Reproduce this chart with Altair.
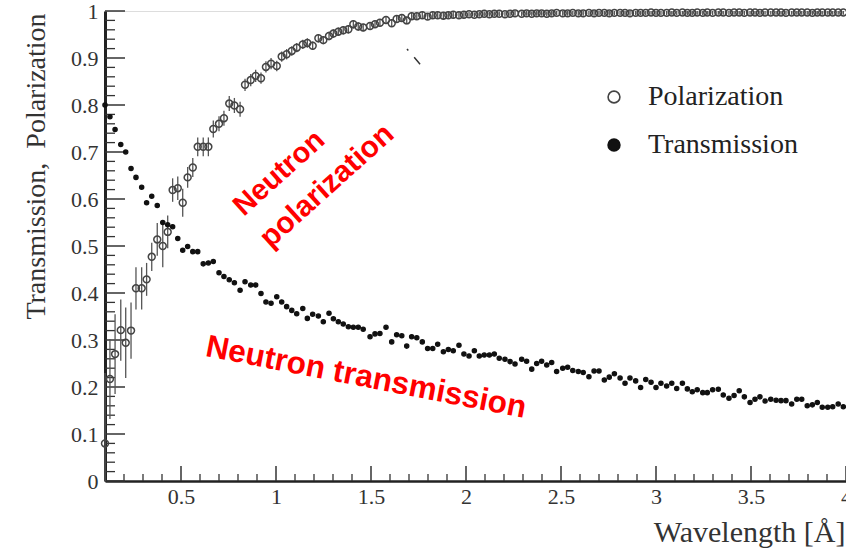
import altair as alt
import pandas as pd

# ---------------- data ----------------
wavelength = [
    0.100, 0.126, 0.153, 0.183, 0.209, 0.237, 0.263, 0.293, 0.319, 0.346,
    0.375, 0.404, 0.430, 0.456, 0.483, 0.509, 0.535, 0.562, 0.588, 0.617,
    0.644, 0.670, 0.700, 0.726, 0.754, 0.781, 0.811, 0.837, 0.867, 0.893,
    0.921, 0.947, 0.974, 1.004, 1.030, 1.056, 1.083, 1.109, 1.141, 1.165,
    1.193, 1.223, 1.249, 1.279, 1.302, 1.328, 1.354, 1.381, 1.407, 1.433,
    1.459, 1.495, 1.521, 1.547, 1.579, 1.609, 1.635, 1.662, 1.688, 1.714,
    1.741, 1.770, 1.798, 1.825, 1.851, 1.881, 1.907, 1.933, 1.963, 1.989,
    2.016, 2.044, 2.070, 2.096, 2.123, 2.149, 2.175, 2.205, 2.232, 2.258,
    2.293, 2.319, 2.346, 2.372, 2.398, 2.425, 2.451, 2.477, 2.509, 2.535,
    2.562, 2.591, 2.617, 2.647, 2.674, 2.700, 2.728, 2.754, 2.781, 2.811,
    2.837, 2.863, 2.893, 2.919, 2.946, 2.974, 3.000, 3.026, 3.056, 3.083,
    3.109, 3.139, 3.165, 3.191, 3.217, 3.246, 3.270, 3.298, 3.328, 3.354,
    3.384, 3.411, 3.438, 3.465, 3.495, 3.521, 3.547, 3.574, 3.604, 3.632,
    3.658, 3.684, 3.714, 3.741, 3.767, 3.796, 3.823, 3.849, 3.875, 3.904,
    3.930, 3.959, 3.986,
]

transmission = [
    0.800, 0.775, 0.748, 0.716, 0.700, 0.665, 0.646, 0.625, 0.592, 0.606,
    0.586, 0.550, 0.545, 0.541, 0.516, 0.491, 0.499, 0.488, 0.488, 0.462,
    0.464, 0.467, 0.443, 0.435, 0.428, 0.422, 0.406, 0.424, 0.417, 0.417,
    0.399, 0.381, 0.378, 0.392, 0.381, 0.371, 0.363, 0.356, 0.367, 0.346,
    0.355, 0.351, 0.339, 0.357, 0.345, 0.339, 0.334, 0.328, 0.327, 0.327,
    0.323, 0.307, 0.313, 0.314, 0.327, 0.296, 0.311, 0.309, 0.287, 0.307,
    0.305, 0.296, 0.282, 0.282, 0.291, 0.275, 0.280, 0.277, 0.289, 0.270,
    0.266, 0.277, 0.266, 0.268, 0.268, 0.270, 0.261, 0.259, 0.254, 0.249,
    0.259, 0.255, 0.238, 0.250, 0.255, 0.247, 0.252, 0.233, 0.240, 0.242,
    0.235, 0.233, 0.231, 0.222, 0.234, 0.234, 0.215, 0.221, 0.228, 0.219,
    0.208, 0.219, 0.213, 0.199, 0.216, 0.210, 0.199, 0.208, 0.202, 0.208,
    0.197, 0.208, 0.196, 0.190, 0.194, 0.188, 0.188, 0.194, 0.195, 0.183,
    0.176, 0.182, 0.192, 0.179, 0.167, 0.174, 0.179, 0.170, 0.174, 0.172,
    0.171, 0.171, 0.164, 0.174, 0.174, 0.160, 0.162, 0.167, 0.157, 0.157,
    0.158, 0.164, 0.158,
]

polarization = [
    0.080, 0.217, 0.270, 0.321, 0.294, 0.320, 0.410, 0.410, 0.429, 0.477,
    0.514, 0.500, 0.530, 0.619, 0.623, 0.592, 0.646, 0.667, 0.711, 0.711,
    0.711, 0.749, 0.760, 0.772, 0.803, 0.799, 0.791, 0.843, 0.853, 0.862,
    0.857, 0.881, 0.888, 0.883, 0.903, 0.908, 0.915, 0.922, 0.929, 0.932,
    0.926, 0.942, 0.938, 0.947, 0.952, 0.956, 0.959, 0.961, 0.972, 0.967,
    0.965, 0.968, 0.972, 0.975, 0.981, 0.974, 0.983, 0.985, 0.980, 0.989,
    0.989, 0.991, 0.988, 0.991, 0.991, 0.990, 0.991, 0.992, 0.991, 0.992,
    0.993, 0.992, 0.993, 0.994, 0.993, 0.994, 0.994, 0.993, 0.994, 0.995,
    0.994, 0.995, 0.994, 0.995, 0.995, 0.994, 0.995, 0.996, 0.995, 0.995,
    0.996, 0.995, 0.995, 0.996, 0.995, 0.996, 0.996, 0.995, 0.996, 0.996,
    0.996, 0.995, 0.996, 0.996, 0.996, 0.997, 0.996, 0.996, 0.996, 0.997,
    0.996, 0.997, 0.996, 0.996, 0.997, 0.996, 0.997, 0.996, 0.997, 0.997,
    0.996, 0.997, 0.997, 0.996, 0.997, 0.997, 0.996, 0.997, 0.997, 0.997,
    0.997, 0.996, 0.997, 0.997, 0.997, 0.997, 0.996, 0.997, 0.997, 0.997,
    0.997, 0.997, 0.997,
]

polarization_err = [
    0.150, 0.085, 0.085, 0.065, 0.075, 0.060, 0.045, 0.045, 0.035, 0.030,
    0.035, 0.045, 0.035, 0.025, 0.025, 0.030, 0.022, 0.020, 0.020, 0.020,
    0.020, 0.018, 0.016, 0.016, 0.016, 0.016, 0.016, 0.013, 0.013, 0.013,
    0.012, 0.012, 0.012, 0.011, 0.011, 0.011, 0.010, 0.010, 0.010, 0.010,
    0.009, 0.009, 0.009, 0.009, 0.009, 0.009, 0.009, 0.009, 0.009, 0.009,
    0.008, 0.008, 0.008, 0.008, 0.008, 0.008, 0.008, 0.008, 0.008, 0.008,
    0.007, 0.007, 0.007, 0.007, 0.007, 0.007, 0.007, 0.007, 0.007, 0.007,
] + [0.005] * 73

series_names = ["Polarization", "Transmission"]
annotations = ["Neutron", "polarization", "Neutron transmission"]

x_major = [0.5, 1, 1.5, 2, 2.5, 3, 3.5, 4]
x_minor = [round(0.1 * i, 1) for i in range(2, 40) if i % 5 != 0]
y_major = [round(0.1 * i, 1) for i in range(0, 11)]
y_minor = [round(0.02 * i, 2) for i in range(1, 50) if i % 5 != 0]

# ---------------- layout ----------------
W, H = 741, 470
SERIF = "Liberation Serif"
SANS = "Liberation Sans"

xs = alt.Scale(domain=[0.1, 4.0], nice=False, zero=False)
ys = alt.Scale(domain=[0, 1], nice=False, zero=False)

x_axis = alt.Axis(
    values=x_major, format="~g", ticks=False, grid=False, labelFlush=False,
    labelOverlap=False, labelFont=SERIF, labelFontSize=22, labelColor="#333",
    labelPadding=5, domainColor="#222", domainWidth=2.5,
    title="Wavelength [Å]", titleFont=SERIF, titleFontSize=30,
    titleFontWeight="normal", titleColor="#333", titleAlign="right",
    titleBaseline="alphabetic", titleX=W - 1, titleY=60,
)
y_axis = alt.Axis(
    values=y_major, format="~g", ticks=False, grid=False, labelFlush=False,
    labelOverlap=False, labelFont=SERIF, labelFontSize=22, labelColor="#333",
    labelPadding=7, domainColor="#222", domainWidth=3,
    title="Transmission,\u00a0 Polarization", titleFont=SERIF, titleFontSize=28,
    titleFontWeight="normal", titleColor="#333", titleAngle=270,
    titleAlign="center", titleBaseline="alphabetic", titleX=-61, titleY=155,
)

pol_df = pd.DataFrame({"x": wavelength, "y": polarization,
                       "series": [series_names[0]] * len(wavelength)})
tra_df = pd.DataFrame({"x": wavelength, "y": transmission,
                       "series": [series_names[1]] * len(wavelength)})
errs = pd.DataFrame({
    "x": wavelength,
    "lo": [max(p - e, 0.0) for p, e in zip(polarization, polarization_err)],
    "hi": [min(p + e, 1.0) for p, e in zip(polarization, polarization_err)],
})

leg = alt.Legend(
    title=None, orient="none", legendX=495, legendY=72, padding=0,
    labelFont=SERIF, labelFontSize=28, labelColor="#222", labelOffset=20,
    symbolType="circle", symbolSize=140, symbolStrokeWidth=1.6, rowPadding=20,
)
fill_enc = alt.Fill("series:N", scale=alt.Scale(domain=series_names, range=["transparent", "#111"]), legend=leg)
stroke_enc = alt.Stroke("series:N", scale=alt.Scale(domain=series_names, range=["#444", "#111"]), legend=leg)

# tick marks pointing inward
y_maj_ticks = alt.Chart(pd.DataFrame({"v": y_major})).mark_rule(
    stroke="#333", strokeWidth=1.5
).encode(y=alt.Y("v:Q", scale=ys, axis=y_axis), x=alt.value(0), x2=alt.value(20))
y_min_ticks = alt.Chart(pd.DataFrame({"v": y_minor})).mark_rule(
    stroke="#333", strokeWidth=1.3
).encode(y=alt.Y("v:Q", scale=ys, axis=y_axis), x=alt.value(0), x2=alt.value(10))
x_maj_ticks = alt.Chart(pd.DataFrame({"v": x_major})).mark_rule(
    stroke="#333", strokeWidth=1.5
).encode(x=alt.X("v:Q", scale=xs, axis=x_axis), y=alt.value(H), y2=alt.value(H - 15))
x_min_ticks = alt.Chart(pd.DataFrame({"v": x_minor})).mark_rule(
    stroke="#333", strokeWidth=1.3
).encode(x=alt.X("v:Q", scale=xs, axis=x_axis), y=alt.value(H), y2=alt.value(H - 7))

err_bars = alt.Chart(errs).mark_rule(stroke="#555", strokeWidth=1.3).encode(
    x=alt.X("x:Q", scale=xs, axis=x_axis),
    y=alt.Y("lo:Q", scale=ys, axis=y_axis),
    y2="hi:Q",
)

pol_points = alt.Chart(pol_df).mark_point(opacity=1, strokeWidth=1.5, size=48).encode(
    x=alt.X("x:Q", scale=xs, axis=x_axis),
    y=alt.Y("y:Q", scale=ys, axis=y_axis),
    fill=fill_enc, stroke=stroke_enc,
)
tra_points = alt.Chart(tra_df).mark_point(opacity=1, strokeWidth=1.3, size=18).encode(
    x=alt.X("x:Q", scale=xs, axis=x_axis),
    y=alt.Y("y:Q", scale=ys, axis=y_axis),
    fill=fill_enc, stroke=stroke_enc,
)

# stray dashed stroke visible in the reference
stray = alt.Chart(pd.DataFrame({"k": [0]})).mark_rule(
    stroke="#333", strokeWidth=1.5, strokeDash=[2, 9, 9, 20]
).encode(x=alt.value(302), y=alt.value(38), x2=alt.value(321), y2=alt.value(60))


def note(text, px, py, angle, size):
    return alt.Chart(pd.DataFrame({"t": [text]})).mark_text(
        font=SANS, fontWeight="bold", fontSize=size, color="#ff0000",
        angle=angle, align="center", baseline="middle",
    ).encode(text="t:N", x=alt.value(px), y=alt.value(py))


notes = [
    note(annotations[0], 174, 162, 318, 29),
    note(annotations[1], 222, 175, 318, 30),
    note(annotations[2], 261, 367, 11, 31.5),
]

chart = alt.layer(
    y_min_ticks, y_maj_ticks, x_min_ticks, x_maj_ticks, err_bars,
    pol_points, tra_points, stray, *notes
).properties(
    width=W, height=H,
    autosize=alt.AutoSizeParams(type="none"),
    padding={"left": 105, "top": 11, "right": 0, "bottom": 70},
).configure_view(stroke="#666", strokeWidth=2).configure(background="white")

chart.save("out.html", embed_options={"renderer": "svg", "actions": False})
